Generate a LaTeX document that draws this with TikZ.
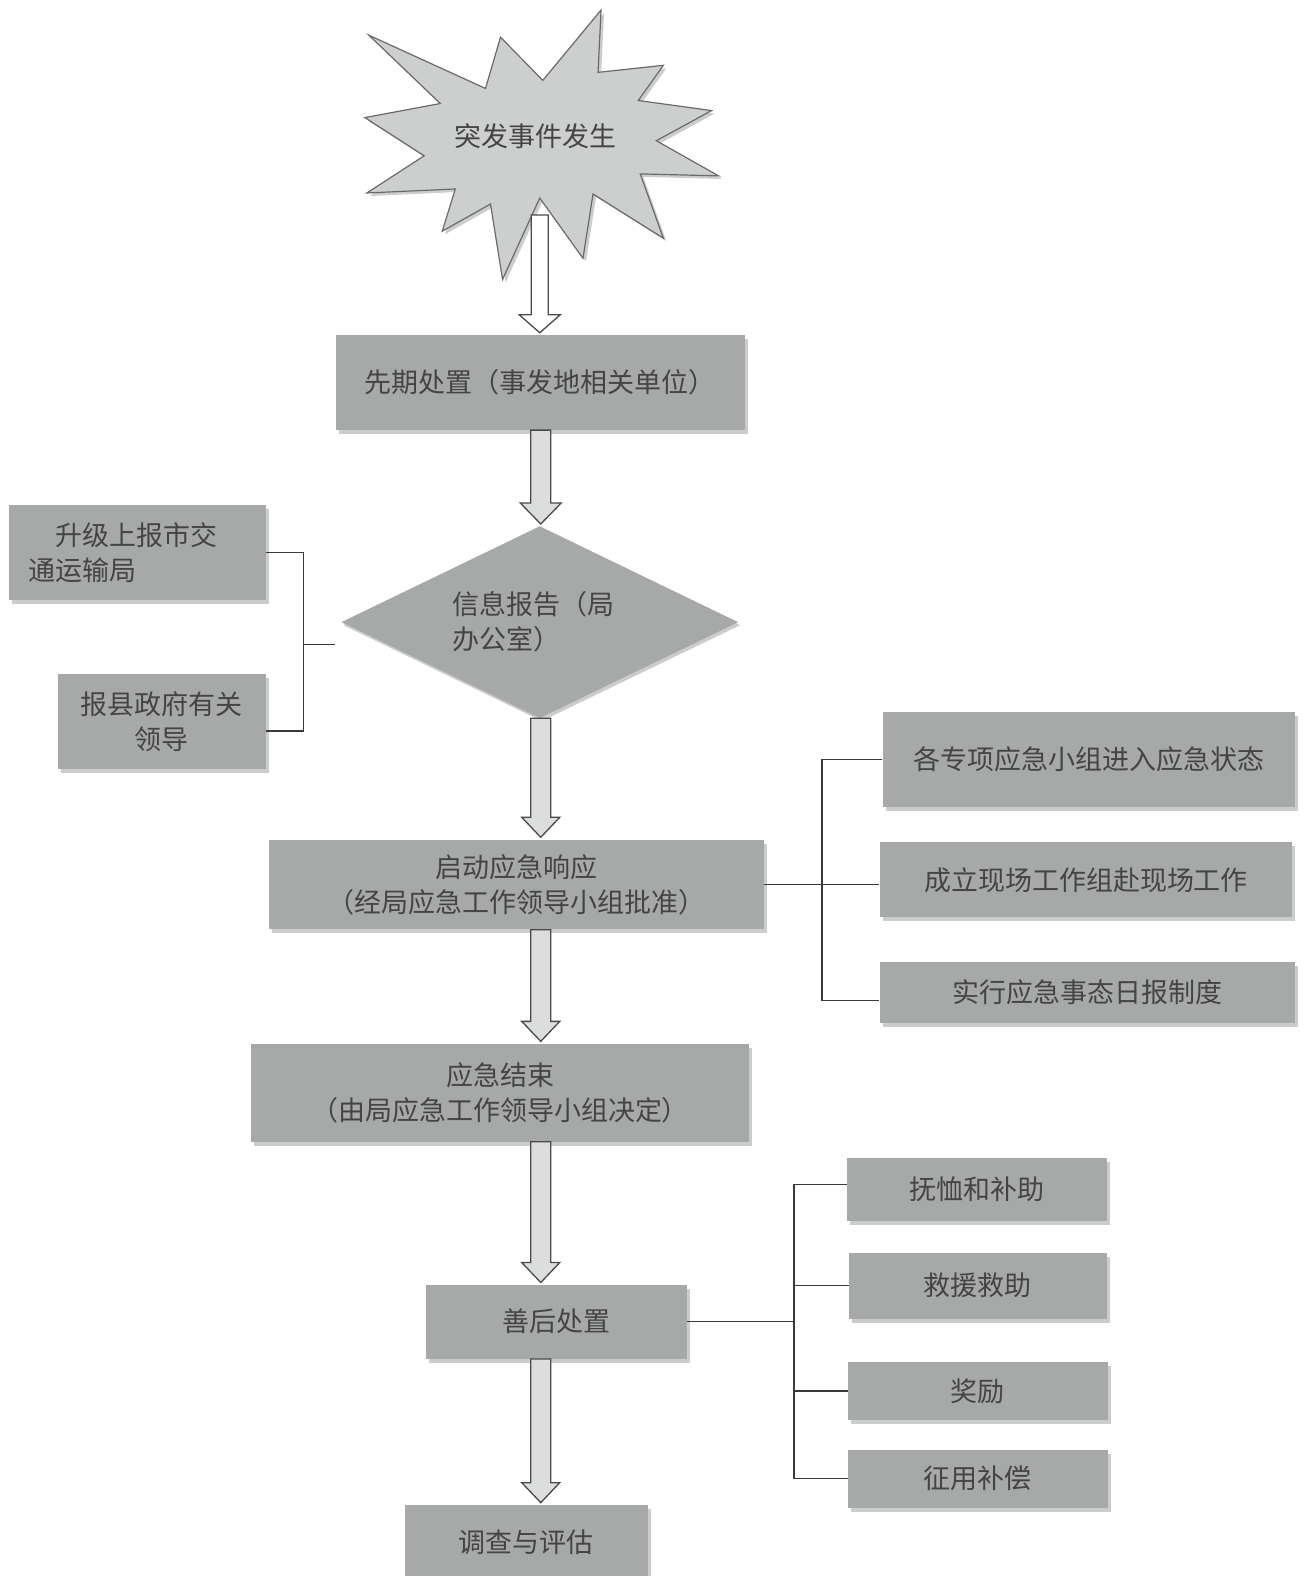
\documentclass[tikz,border=0pt]{standalone}
\usepackage{fontspec}
\newfontfamily\cjk{Noto Sans CJK SC}
\usetikzlibrary{shapes.geometric,shadows,calc}
\definecolor{boxgray}{HTML}{A7A9A9}
\definecolor{shadowgray}{HTML}{CBCDCD}
\definecolor{txtgray}{HTML}{444444}
\definecolor{stargray}{HTML}{CDCFCF}
\definecolor{starline}{HTML}{6A6A6A}
\definecolor{linegray}{HTML}{3A3A3A}
\definecolor{arrowfill}{HTML}{DCDDDD}
\definecolor{arrowline}{HTML}{4A4A4A}
\newcommand\blockarrow[6]{%
  \draw[barrow, fill=#1] let \p1=(#2), \p2=(#3) in
    (\x1-#4pt,\y1) -- (\x1+#4pt,\y1) -- (\x1+#4pt,\y2+#6pt+2pt) -- (\x1+#5pt,\y2+#6pt+2pt)
    -- (\x1,\y2+2pt) -- (\x1-#5pt,\y2+#6pt+2pt) -- (\x1-#4pt,\y2+#6pt+2pt) -- cycle;}
\newcommand\starpath{(367,35) -- (483,88) -- (498,37) -- (540,80) -- (598,10) -- (595,72) -- (660,65) -- (635,100)
  -- (708,110) -- (653,140) -- (715,175) -- (637,173) -- (660,237) -- (590,193) -- (580,257)
  -- (537,197) -- (500,278) -- (488,203) -- (440,230) -- (453,188) -- (365,192) -- (422,155)
  -- (363,117) -- (438,103) -- cycle}
\begin{document}
\begin{tikzpicture}[x=1.0054pt,y=-1.0054pt,
  every node/.style={font=\cjk\fontsize{27}{35}\selectfont, text=txtgray, align=center, inner sep=0pt},
  box/.style={rectangle, fill=boxgray, drop shadow={shadow xshift=3pt, shadow yshift=-4pt, fill=shadowgray, opacity=1}},
  bracket/.style={draw=linegray, line width=1.4pt},
  barrow/.style={draw=arrowline, line width=1.3pt, line join=miter},
]
\fill[white] (0,0) rectangle (1299,1568);
\useasboundingbox (0,0) rectangle (1299,1568);

% star
\begin{scope}[shift={(3,3)}]
\fill[shadowgray] \starpath;
\end{scope}
\draw[fill=stargray, draw=starline, line width=1.2pt, line join=miter] \starpath;
\node (startext) at (533,135) {突发事件发生};

% main column
\node[box, minimum width=409pt, minimum height=95pt] (b1) at (537.5,380.5) {先期处置（事发地相关单位）};
\node[diamond, fill=boxgray, minimum width=397pt, minimum height=192pt, aspect=2.06,
      text width=174pt, align=left,
      drop shadow={shadow xshift=2pt, shadow yshift=-3pt, fill=shadowgray, opacity=1}]
      (dia) at (537,619) {信息报告（局\\办公室）};
\node[box, minimum width=495pt, minimum height=90pt] (b3) at (513.5,880) {启动应急响应\\（经局应急工作领导小组批准）};
\node[box, minimum width=499pt, minimum height=98pt] (b4) at (497.5,1087) {应急结束\\（由局应急工作领导小组决定）};
\node[box, minimum width=261pt, minimum height=74pt] (b5) at (553.5,1315) {善后处置};
\node[box, minimum width=243pt, minimum height=75pt] (b6) at (523.5,1534.5) {调查与评估};

% left boxes
\node[box, minimum width=257pt, minimum height=95pt, text width=217pt, align=left] (l1) at (136.5,549.5) {\hspace*{1em}升级上报市交\\通运输局};
\node[box, minimum width=208pt, minimum height=95pt] (l2) at (161,717.5) {报县政府有关\\领导};

% right boxes
\node[box, minimum width=413pt, minimum height=95pt] (r1) at (1083.5,755.5) {各专项应急小组进入应急状态};
\node[box, minimum width=413pt, minimum height=75pt] (r2) at (1080.5,875.5) {成立现场工作组赴现场工作};
\node[box, minimum width=416pt, minimum height=61pt] (r3) at (1082,987.5) {实行应急事态日报制度};
\node[box, minimum width=260pt, minimum height=63pt] (s1) at (972,1183.5) {抚恤和补助};
\node[box, minimum width=258pt, minimum height=66pt] (s2) at (973,1279) {救援救助};
\node[box, minimum width=260pt, minimum height=58pt] (s3) at (973,1384) {奖励};
\node[box, minimum width=260pt, minimum height=58pt] (s4) at (973,1471) {征用补偿};

% brackets
\coordinate (lbx) at (302,0);
\coordinate (l2c) at ([yshift=-10pt]l2.east);
\coordinate (dstub) at (333,641);
\draw[bracket] (l1.east) -- (l1.east -| lbx) -- (l2c -| lbx) -- (l2c);
\draw[bracket] (dstub -| lbx) -- (dstub);

\coordinate (rbx) at (818,0);
\coordinate (r3c) at ([yshift=-8pt]r3.west);
\draw[bracket] (r1.west) -- (r1.west -| rbx) -- (r3c -| rbx) -- (r3c);
\draw[bracket] (b3.east) -- (b3.east -| r2.west);

\coordinate (sbx) at (790,0);
\coordinate (s1c) at ([yshift=5pt]s1.west);
\draw[bracket] (s1c) -- (s1c -| sbx) -- (s4.west -| sbx) -- (s4.west);
\draw[bracket] (b5.east) -- (b5.east -| sbx);
\draw[bracket] (s2.west -| sbx) -- (s2.west);
\draw[bracket] (s3.west -| sbx) -- (s3.west);

% block arrows
\coordinate (ax) at (538,0);
\coordinate (starbot) at (537,214);
\blockarrow{white}{starbot}{b1.north}{8.5}{20.5}{18}
\blockarrow{arrowfill}{b1.south -| ax}{dia.north}{10}{20.5}{21}
\blockarrow{arrowfill}{dia.south -| ax}{b3.north}{10}{19}{20}
\blockarrow{arrowfill}{b3.south -| ax}{b4.north}{10}{19}{20}
\blockarrow{arrowfill}{b4.south -| ax}{b5.north}{10}{19}{20}
\blockarrow{arrowfill}{b5.south -| ax}{b6.north}{10}{19}{20}
\end{tikzpicture}
\end{document}
